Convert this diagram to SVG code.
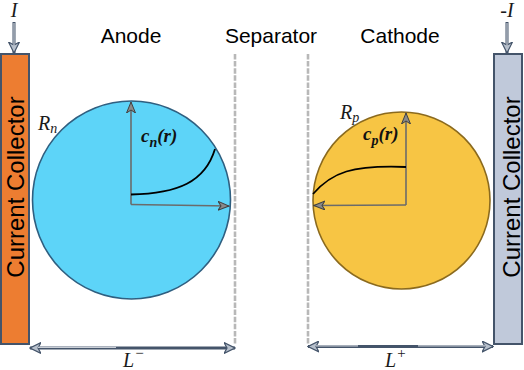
<svg xmlns="http://www.w3.org/2000/svg" width="524" height="370" viewBox="0 0 524 370">
<style>
.lbl{font-family:"Liberation Sans",Arial,sans-serif;font-size:21px;fill:#000}
.cc{font-family:"Liberation Sans",Arial,sans-serif;font-size:24px;fill:#000;text-anchor:middle}
.math{font-family:"Liberation Serif","Times New Roman",serif;font-style:italic;font-size:20px;fill:#1a1a1a}
.mb{font-family:"Liberation Serif","Times New Roman",serif;font-style:italic;font-weight:bold;font-size:19px;fill:#111}
.axis{stroke:#6b6b6b;stroke-width:1.6;fill:none}
.sep{stroke:#b8b8b8;stroke-width:2.6;stroke-dasharray:5.5 1.6;fill:none}
.dim{stroke:#44546A;stroke-width:3;fill:none}
.curr{stroke:#44546A;stroke-width:3;fill:none}
.currin{stroke:#c9ced6;stroke-width:1.2;fill:none}
.curve{stroke:#000;stroke-width:1.8;fill:none}
</style>
<defs>
<marker id="ah" markerUnits="userSpaceOnUse" markerWidth="12" markerHeight="10" viewBox="0 0 12 10" refX="11" refY="5" orient="auto-start-reverse">
<path d="M0,0.5 L11,5 L0,9.5 L3,5 z" fill="#8a8a8a" stroke="#404040" stroke-width="1"/>
</marker>
<marker id="ah2" markerUnits="userSpaceOnUse" markerWidth="12" markerHeight="12" viewBox="0 0 12 12" refX="11" refY="6" orient="auto-start-reverse">
<path d="M0,0.5 L11,6 L0,11.5 L3,6 z" fill="#b7c0cc" stroke="#44546A" stroke-width="1.2"/>
</marker>
</defs>

<g id="collector-left">
<rect x="1" y="54" width="28" height="290" fill="#ED7D31" stroke="#44546A" stroke-width="2"/>
<text class="cc" transform="translate(23.5,187) rotate(-90)">Current Collector</text>
</g>
<g id="collector-right">
<rect x="494" y="54" width="28" height="290" fill="#C0C9DA" stroke="#44546A" stroke-width="2"/>
<text class="cc" transform="translate(520,187) rotate(-90)">Current Collector</text>
</g>

<g id="titles">
<text class="lbl" x="131" y="43" text-anchor="middle">Anode</text>
<text class="lbl" x="271" y="43" text-anchor="middle">Separator</text>
<text class="lbl" x="400" y="43" text-anchor="middle">Cathode</text>
</g>

<g id="anode-particle">
<circle cx="131.5" cy="200" r="99" fill="#5DD4F8" stroke="#2F5F80" stroke-width="1.6"/>
<text class="math" x="38" y="130">R<tspan font-size="14" dy="3">n</tspan></text>
<text class="mb" x="141" y="142">c<tspan font-size="14" dy="5">n</tspan><tspan dy="-5">(r)</tspan></text>
</g>
<g id="cathode-particle">
<circle cx="401.5" cy="200.5" r="88.5" fill="#F7C544" stroke="#8B6A1E" stroke-width="1.6"/>
<text class="math" x="340" y="119">R<tspan font-size="14" dy="3">p</tspan></text>
<text class="mb" x="363" y="140">c<tspan font-size="14" dy="5">p</tspan><tspan dy="-5">(r)</tspan></text>
</g>

<g id="separator">
<line class="sep" x1="235" y1="54" x2="235" y2="345"/>
<line class="sep" x1="308" y1="54" x2="308" y2="345"/>
</g>

<g id="connectors">
<line class="axis" x1="131" y1="204.5" x2="131" y2="102" marker-end="url(#ah)"/>
<line class="axis" x1="131" y1="204.5" x2="229" y2="206" marker-end="url(#ah)"/>
<path class="curve" d="M131,194.5 C178,193.5 205,182 215,149"/>
<line class="axis" x1="406" y1="205" x2="406" y2="113" marker-end="url(#ah)"/>
<line class="axis" x1="406" y1="205" x2="314" y2="205.5" marker-end="url(#ah)"/>
<path class="curve" d="M313,194 C332,172 352,165 406,167"/>

<line class="curr" x1="14" y1="22" x2="14" y2="53" marker-end="url(#ah2)"/>
<line class="currin" x1="14" y1="23" x2="14" y2="46"/>
<line class="curr" x1="507" y1="22" x2="507" y2="53" marker-end="url(#ah2)"/>
<line class="currin" x1="507" y1="23" x2="507" y2="46"/>

<line class="dim" x1="30" y1="348" x2="235" y2="348" marker-start="url(#ah2)" marker-end="url(#ah2)"/>
<line stroke="#c9ced6" stroke-width="1.3" x1="38" y1="347.4" x2="116" y2="347.4"/>
<line class="dim" x1="308" y1="346.5" x2="493" y2="346.5" marker-start="url(#ah2)" marker-end="url(#ah2)"/>
<line stroke="#c9ced6" stroke-width="1.3" x1="316" y1="345.9" x2="358" y2="345.9"/>
<line stroke="#c9ced6" stroke-width="1.3" x1="418" y1="345.9" x2="485" y2="345.9"/>
</g>

<g id="math-labels">
<text class="math" x="14" y="17" text-anchor="middle">I</text>
<text class="math" x="507" y="17" text-anchor="middle">-I</text>
<text class="math" x="123" y="367">L<tspan font-size="15" dy="-9">−</tspan></text>
<text class="math" x="385" y="367">L<tspan font-size="15" dy="-9">+</tspan></text>
</g>
</svg>
